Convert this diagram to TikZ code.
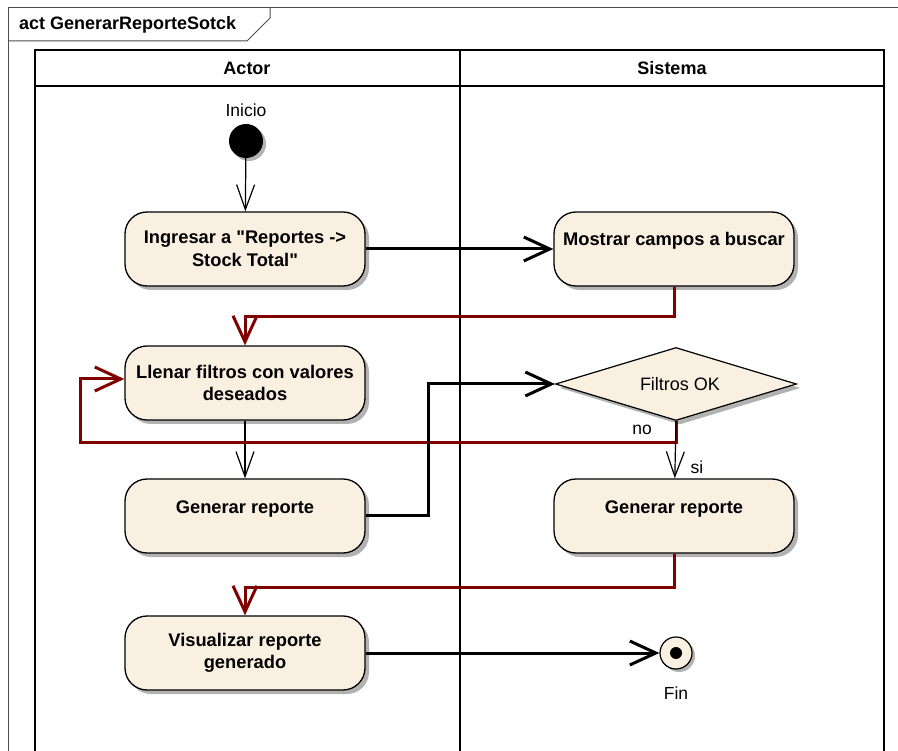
\documentclass[tikz,border=0pt]{standalone}
\usepackage{fontspec}
\setmainfont{Liberation Sans}
\usetikzlibrary{arrows.meta,shapes.geometric,shadows,calc}
\definecolor{cream}{HTML}{FAF0E1}
\definecolor{darkred}{HTML}{800000}
\tikzset{
  act/.style={rectangle, rounded corners=22pt, draw=black, line width=1.3pt, fill=cream,
    minimum width=240pt, minimum height=74pt, align=center, inner sep=2pt,
    font=\fontsize{18.3}{22.5}\selectfont\bfseries,
    drop shadow={shadow xshift=4pt, shadow yshift=-4pt, fill=black!30, opacity=1}},
  decis/.style={diamond, aspect=3.3, draw=black, line width=1.2pt, fill=cream, minimum width=241pt,
    minimum height=73pt, inner sep=0pt, font=\fontsize{18}{20}\selectfont,
    drop shadow={shadow xshift=4pt, shadow yshift=-4pt, fill=black!30, opacity=1}},
  plain/.style={font=\fontsize{17.5}{20}\selectfont, inner sep=0pt},
  lanehead/.style={font=\fontsize{18}{22}\selectfont\bfseries, inner sep=0pt},
  thinarrow/.style={draw=black, line width=1.2pt, -{Straight Barb[length=25pt,width=18pt]}},
  thickarrow/.style={draw=black, line width=3pt, -{Straight Barb[length=26pt,width=24pt]}},
  redarrow/.style={draw=darkred, line width=3pt, -{Straight Barb[length=26pt,width=24pt]}},
  laneline/.style={draw=black, line width=2pt},
  frameline/.style={draw=black!70, line width=1pt}
}
\begin{document}
\begin{tikzpicture}[x=1pt,y=-1pt]
\useasboundingbox (0,0) rectangle (898,751);
% frame
\draw[frameline] (898,8) -- (8,8) -- (8,751);
\draw[frameline] (8,41) -- (247,41) -- (270,18) -- (270,8);
\node[lanehead, anchor=west] (title) at (19,25) {act GenerarReporteSotck};
% swimlanes
\draw[laneline] (35,751) -- (35,50) -- (884,50) -- (884,751);
\draw[laneline] (35,86) -- (884,86);
\draw[laneline] (460,50) -- (460,751);
\node[lanehead] (hactor) at (247,68) {Actor};
\node[lanehead] (hsis) at (672,68) {Sistema};
% nodes
\node[plain] (inicioL) at (246,110) {Inicio};
\node[circle, fill=black, minimum size=34pt, inner sep=0pt,
  drop shadow={shadow xshift=3pt, shadow yshift=-3pt, fill=black!30, opacity=1}] (init) at (246,141) {};
\node[act] (ingresar) at (245,249) {Ingresar a \textquotedbl Reportes ->\\Stock Total\textquotedbl};
\node[act] (mostrar) at (674,249) {Mostrar campos a buscar\\[-8pt]\strut};
\node[act] (llenar) at (245,383) {Llenar filtros con valores\\deseados};
\node[decis] (filtros) at (676,384) {\hspace*{8pt}Filtros OK};
\node[act] (genA) at (245,516) {Generar reporte\\[-11pt]\strut};
\node[act] (genB) at (674,516) {Generar reporte\\[-11pt]\strut};
\node[act] (visual) at (245,653) {Visualizar reporte\\generado};
\node[circle, draw=black, line width=1.2pt, fill=cream, minimum size=32pt, inner sep=0pt,
  drop shadow={shadow xshift=3pt, shadow yshift=-3pt, fill=black!30, opacity=1}] (fin) at (676,653) {};
\fill[black] (fin.center) circle (6pt);
\node[plain] (finL) at (676,693) {Fin};
% connectors
\coordinate (loop) at (80,443);
\draw[thinarrow] (init) -- (ingresar);
\draw[thickarrow] (ingresar) -- (mostrar);
\draw[redarrow] (mostrar.south) -- ++(0,30) -| (llenar.north);
\draw[thinarrow] (llenar) -- (genA);
\draw[redarrow] (filtros.south) |- (loop) |- ([yshift=4pt]llenar.west);
\node[plain] (nolab) at (642,430) {no};
\draw[thickarrow] (genA.east) -- ++(63,0) |- (filtros.west);
\draw[thinarrow] (filtros.south) -- (genB);
\node[plain] (silab) at (697,467) {si};
\draw[redarrow] (genB.south) -- ++(0,34) -| (visual.north);
\draw[thickarrow] (visual) -- (fin);
\end{tikzpicture}
\end{document}
